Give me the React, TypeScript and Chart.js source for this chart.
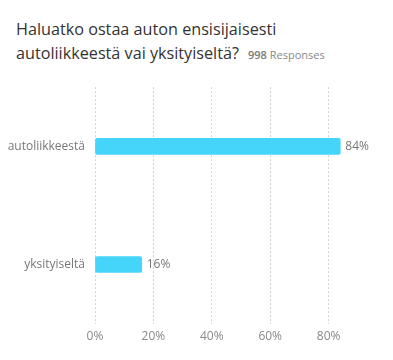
import React, { useEffect, useRef } from "react";
import { Chart, registerables } from "chart.js";

Chart.register(...registerables);

const categories = ["autoliikkeestä", "yksityiseltä"];
const values = [84, 16];
const xTicks = [0, 20, 40, 60, 80];
const titleLine1 = "Haluatko ostaa auton ensisijaisesti";
const titleLine2 = "autoliikkeestä vai yksityiseltä?";
const responses = "998";

const FONT = "'Open Sans', sans-serif";

export default function App() {
  const ref = useRef<HTMLCanvasElement>(null);

  useEffect(() => {
    document.body.style.margin = "0";
    const labelPlugin = {
      id: "valueLabels",
      afterDatasetsDraw(chart: any) {
        const ctx = chart.ctx;
        const meta = chart.getDatasetMeta(0);
        ctx.save();
        ctx.font = `12px ${FONT}`;
        ctx.fillStyle = "#777";
        ctx.textAlign = "left";
        ctx.textBaseline = "middle";
        meta.data.forEach((el: any, i: number) => {
          ctx.fillText(values[i] + "%", el.x + 5, el.y);
        });
        ctx.restore();
      },
    };
    const chart = new Chart(ref.current!, {
      type: "bar",
      data: {
        labels: categories,
        datasets: [
          {
            data: values,
            backgroundColor: "#45d4fa",
            borderRadius: 2,
            borderSkipped: false,
            barThickness: 16,
          },
        ],
      },
      options: {
        indexAxis: "y",
        animation: false,
        responsive: false,
        maintainAspectRatio: false,
        layout: { padding: { left: 0, right: 6, top: 15, bottom: 10 } },
        plugins: { legend: { display: false }, tooltip: { enabled: false } },
        scales: {
          x: {
            min: 0,
            max: 100,
            afterBuildTicks: (scale: any) => {
              scale.ticks = xTicks.map((v) => ({ value: v }));
            },
            grid: { color: "#d0d0d0", drawTicks: false, lineWidth: 1 },
            border: { display: false, dash: [2, 2] },
            ticks: {
              padding: 6,
              color: "#888",
              font: { family: FONT, size: 12 },
              callback: (v: any) => v + "%",
            },
          },
          y: {
            afterFit: (scale: any) => {
              scale.width = 95;
            },
            grid: { display: false, drawTicks: false },
            border: { display: false },
            ticks: {
              padding: 10,
              color: "#777",
              font: { family: FONT, size: 12 },
            },
          },
        },
      },
      plugins: [labelPlugin],
    });
    return () => chart.destroy();
  }, []);

  return (
    <div style={{ position: "relative", width: 393, height: 360, fontFamily: FONT }}>
      <div
        style={{
          position: "absolute",
          left: 16,
          top: 17,
          fontSize: 16.2,
          lineHeight: "24px",
          color: "#333",
        }}
      >
        <div>{titleLine1}</div>
        <div>
          {titleLine2}
          <span style={{ fontSize: 11, color: "#777", marginLeft: 9 }}>
            <b style={{ fontWeight: 600 }}>{responses}</b>{" "}
            <span style={{ color: "#888" }}>Responses</span>
          </span>
        </div>
      </div>
      <canvas
        ref={ref}
        width={393}
        height={290}
        style={{ position: "absolute", left: 0, top: 70, width: 393, height: 290 }}
      />
    </div>
  );
}
